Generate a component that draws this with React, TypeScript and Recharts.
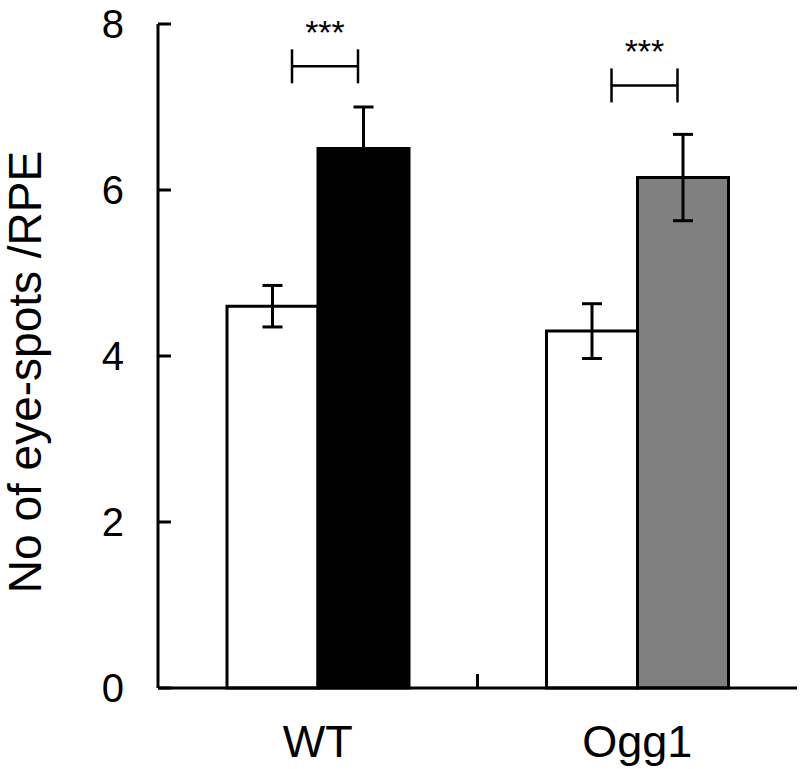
import React from "react";
import { BarChart, Bar, XAxis, YAxis, ErrorBar, Cell, LabelList, Label } from "recharts";

const groups = ["WT", "Ogg1"];
const control = [4.6, 4.3];
const controlErr = [0.25, 0.33];
const treated = [6.5, 6.15];
const treatedErr = [0.5, 0.52];
const treatedColors = ["#000000", "#808080"];
const sigLevel = [7.49, 7.26];
const sigText = ["***", "***"];
const yTicks = [0, 2, 4, 6, 8];

const data = groups.map((g, i) => ({
  group: g,
  control: control[i],
  controlErr: controlErr[i],
  treated: treated[i],
  treatedErr: treatedErr[i],
}));

const FONT = "'Liberation Sans', Arial, sans-serif";

const YTick = ({ x, y, payload }: any) => (
  <g>
    <text x={x} y={y} textAnchor="end" dominantBaseline="central" fontSize={40} fontFamily={FONT} fill="#000">
      {payload.value}
    </text>
    <line x1={x + 34} x2={x + 47} y1={y} y2={y} stroke="#000" strokeWidth={3} />
  </g>
);

const XTick = ({ x, y, payload, index }: any) => (
  <g>
    <text x={x} y={y} dy="0.71em" textAnchor="middle" fontSize={45} fontFamily={FONT} fill="#000">
      {payload.value}
    </text>
    {index === 0 && payload.offset ? (
      <line
        x1={x + payload.offset}
        x2={x + payload.offset}
        y1={y - 37}
        y2={y - 51}
        stroke="#000"
        strokeWidth={3}
      />
    ) : null}
  </g>
);

const YLabel = (p: any) => {
  const vb = p.viewBox;
  const cx = vb.x + 25;
  const cy = vb.y + vb.height / 2 + 16;
  return (
    <text
      transform={`translate(${cx}, ${cy}) rotate(-90)`}
      textAnchor="middle"
      dominantBaseline="central"
      fontSize={46}
      fontFamily={FONT}
      fill="#000"
    >
      No of eye-spots /RPE
    </text>
  );
};

// significance bracket drawn above each pair, placed from the treated bar's geometry
const SigMark = (props: any) => {
  const vb = props.viewBox || props;
  const i = props.index;
  const ppu = vb.height / treated[i];
  const base = vb.y + vb.height;
  const by = base - sigLevel[i] * ppu;
  const x1 = vb.x - 26;
  const x2 = vb.x + 40;
  return (
    <g>
      <line x1={x1} x2={x2} y1={by} y2={by} stroke="#000" strokeWidth={2.5} />
      <line x1={x1} x2={x1} y1={by - 17} y2={by + 17} stroke="#000" strokeWidth={2.5} />
      <line x1={x2} x2={x2} y1={by - 17} y2={by + 17} stroke="#000" strokeWidth={2.5} />
      <text x={(x1 + x2) / 2} y={by - 22} textAnchor="middle" fontSize={34} fontFamily={FONT} fill="#000">
        {sigText[i]}
      </text>
    </g>
  );
};

export default function App() {
  return (
    <div style={{ position: "absolute", left: 0, top: 0, background: "#fff" }}>
      <BarChart
        width={800}
        height={769}
        data={data}
        margin={{ top: 24, right: 3, bottom: 21, left: 0 }}
        barGap={0}
        barSize={91}
      >
        <XAxis
          dataKey="group"
          height={60}
          tickSize={0}
          tickMargin={37}
          tickLine={false}
          tick={<XTick />}
          axisLine={{ stroke: "#000", strokeWidth: 3 }}
        />
        <YAxis
          width={158}
          domain={[0, 8]}
          ticks={yTicks}
          tickSize={0}
          tickMargin={34}
          tickLine={false}
          tick={<YTick />}
          axisLine={{ stroke: "#000", strokeWidth: 3 }}
        >
          <Label content={YLabel} />
        </YAxis>
        <Bar dataKey="control" fill="#fff" stroke="#000" strokeWidth={3} isAnimationActive={false}>
          <ErrorBar dataKey="controlErr" width={10} stroke="#000" strokeWidth={3} />
        </Bar>
        <Bar dataKey="treated" stroke="#000" strokeWidth={3} isAnimationActive={false}>
          {data.map((d, i) => (
            <Cell key={d.group} fill={treatedColors[i]} />
          ))}
          <ErrorBar dataKey="treatedErr" width={10} stroke="#000" strokeWidth={3} />
          <LabelList dataKey="treated" content={SigMark} />
        </Bar>
      </BarChart>
    </div>
  );
}
